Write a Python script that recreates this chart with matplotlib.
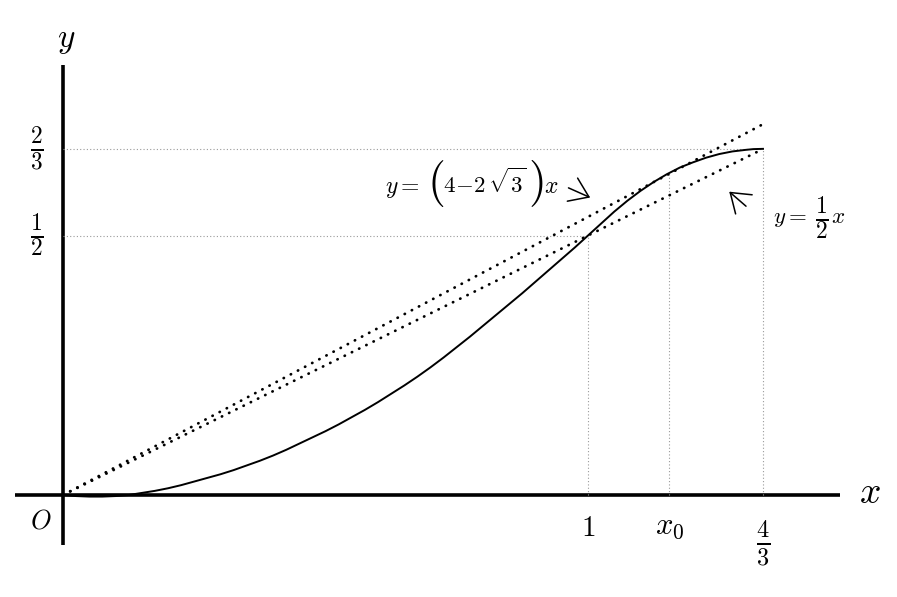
import numpy as np
import matplotlib.pyplot as plt

plt.rcParams['mathtext.fontset'] = 'cm'
plt.rcParams['font.family'] = ['DejaVu Serif']

# curve
curve_x = [0.000, 0.025, 0.050, 0.075, 0.100, 0.125, 0.150, 0.175, 0.200, 0.225,
           0.250, 0.275, 0.300, 0.325, 0.350, 0.375, 0.400, 0.425, 0.450, 0.475,
           0.500, 0.525, 0.550, 0.575, 0.600, 0.625, 0.650, 0.675, 0.700, 0.725,
           0.750, 0.775, 0.800, 0.825, 0.850, 0.875, 0.900, 0.925, 0.950, 0.975,
           1.000, 1.025, 1.050, 1.075, 1.100, 1.125, 1.150, 1.175, 1.200, 1.225,
           1.250, 1.275, 1.300, 1.315, 4 / 3]
curve_y = [0.000, -0.002, -0.003, -0.003, -0.002, 0.000, 0.004, 0.008, 0.013, 0.019,
           0.026, 0.033, 0.040, 0.048, 0.057, 0.066, 0.076, 0.087, 0.099, 0.111,
           0.123, 0.136, 0.150, 0.164, 0.179, 0.195, 0.211, 0.228, 0.246, 0.265,
           0.285, 0.305, 0.326, 0.347, 0.368, 0.389, 0.411, 0.433, 0.455, 0.477,
           0.500, 0.523, 0.546, 0.567, 0.586, 0.603, 0.618, 0.631, 0.641, 0.650,
           0.657, 0.662, 0.665, 0.6665, 0.667]

# the two dotted lines through the origin
slope_tangent = 4 - 2 * np.sqrt(3)
slope_half = 0.5
line_x = [0, 4 / 3]

x0 = 1.155
x_ticks = [1, x0, 4 / 3]
x_tick_labels = [r'$1$', r'$x_0$', r'$\frac{4}{3}$']
y_ticks = [2 / 3, 1 / 2]
y_tick_labels = [r'$\frac{2}{3}$', r'$\frac{1}{2}$']

fig = plt.figure(figsize=(8.97, 5.97), dpi=100)
ax = fig.add_axes([0, 0, 1, 1])
ax.set_xlim(-0.12, 1.5886)
ax.set_ylim(-0.1965, 0.9538)
ax.axis('off')

# axes
ax.plot([-0.0914, 1.48], [0, 0], color='black', lw=2.6, solid_capstyle='butt')
ax.plot([0, 0], [-0.0963, 0.8285], color='black', lw=2.6, solid_capstyle='butt')

# guide lines
guide = dict(color='#9a9a9a', lw=0.8, linestyle=(0, (1, 2)))
ax.plot([0, 4 / 3], [2 / 3, 2 / 3], **guide)
ax.plot([0, 1], [1 / 2, 1 / 2], **guide)
ax.plot([1, 1], [0, 1 / 2], **guide)
ax.plot([x0, x0], [0, slope_tangent * x0], **guide)
ax.plot([4 / 3, 4 / 3], [0, 2 / 3], **guide)

# dotted lines
dots = dict(color='black', lw=2.0, linestyle=(0, (0.1, 2.8)), dash_capstyle='round')
ax.plot(line_x, [slope_tangent * v for v in line_x], **dots)
ax.plot(line_x, [slope_half * v for v in line_x], **dots)

# curve
ax.plot(curve_x, curve_y, color='black', lw=1.4, solid_joinstyle='round')

# labels
ax.text(0.0057, 0.877, r'$y$', fontsize=24, ha='center', va='center')
ax.text(1.537, 0.004, r'$x$', fontsize=27, ha='center', va='center')
ax.text(-0.042, -0.050, r'$O$', fontsize=19, ha='center', va='center')

ax.text(x_ticks[0], -0.064, x_tick_labels[0], fontsize=21, ha='center', va='center')
ax.text(x_ticks[1], -0.058, x_tick_labels[1], fontsize=22, ha='center', va='center')
ax.text(x_ticks[2], -0.094, x_tick_labels[2], fontsize=25, ha='center', va='center')

for yt, lab in zip(y_ticks, y_tick_labels):
    ax.text(-0.05, yt, lab, fontsize=24, ha='center', va='center')

# annotation for the tangent line, pieced so the brackets can be tall
base = 0.582
ax.text(0.6133, base, r'$y=$', fontsize=17, ha='left', va='baseline')
ax.text(0.7105, 0.600, r'$($', fontsize=33, ha='center', va='center')
ax.text(0.7238, base, r'$4\!-\!2\,\sqrt{3}$', fontsize=16.5, ha='left', va='baseline')
ax.text(0.901, 0.600, r'$)$', fontsize=33, ha='center', va='center')
ax.text(0.916, base, r'$x$', fontsize=17, ha='left', va='baseline')
ax.annotate('', xy=(1.009, 0.571), xytext=(0.958, 0.594),
            arrowprops=dict(arrowstyle='->, head_length=0.5, head_width=0.35',
                            lw=1.1, mutation_scale=26))

# annotation for y = x/2
base2 = 0.525
ax.text(1.352, base2, r'$y=$', fontsize=16.5, ha='left', va='baseline')
ax.text(1.445, 0.533, r'$\frac{1}{2}$', fontsize=24, ha='center', va='center')
ax.text(1.462, base2, r'$x$', fontsize=16.5, ha='left', va='baseline')
ax.annotate('', xy=(1.265, 0.588), xytext=(1.305, 0.553),
            arrowprops=dict(arrowstyle='->, head_length=0.5, head_width=0.35',
                            lw=1.1, mutation_scale=26))

fig.savefig('out.png', dpi=100)
